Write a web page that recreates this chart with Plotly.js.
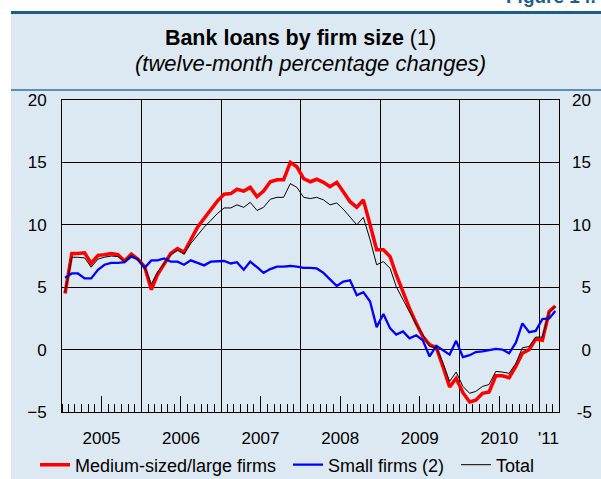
<!DOCTYPE html>
<html>
<head>
<meta charset="utf-8">
<script src="https://cdn.plot.ly/plotly-3.0.1.min.js"></script>
<style>html,body{margin:0;padding:0;background:#fff;}#chart{width:601px;height:479px;}</style>
</head>
<body>
<div id="chart"></div>
<script>
// Monthly data, Jan 2005 .. Mar 2011 (twelve-month % changes)
const startYear = 2005;
const mediumLarge = [4.5,7.7,7.7,7.75,6.9,7.55,7.6,7.7,7.6,7.1,7.65,7.25,
  6.65,4.8,6.0,6.9,7.7,8.1,7.8,8.8,9.8,10.5,11.2,11.9,
  12.45,12.5,12.85,12.7,13.0,12.25,12.7,13.45,13.6,13.6,15.0,14.65,
  13.7,13.45,13.65,13.4,13.05,13.4,12.65,11.85,11.4,12.0,10.0,8.0,
  8.0,7.45,6.0,4.55,3.3,2.1,1.05,0.4,0.15,-1.35,-3.0,-2.3,
  -3.45,-4.2,-4.05,-3.5,-3.4,-2.1,-2.1,-2.25,-1.35,-0.3,0.0,0.85,
  0.75,3.05,3.5];
const smallFirms = [5.75,6.1,6.1,5.7,5.7,6.4,6.8,6.95,6.95,7.0,7.45,7.25,
  6.55,7.15,7.15,7.3,7.05,7.05,6.8,7.15,6.95,6.75,7.05,7.1,
  7.1,6.9,7.0,6.4,7.05,6.6,6.15,6.45,6.65,6.65,6.7,6.65,
  6.55,6.55,6.5,6.15,5.65,5.1,5.45,5.55,4.35,4.6,3.85,1.8,
  2.85,1.7,1.2,1.45,0.9,1.15,0.75,-0.55,0.3,-0.05,-0.4,0.7,
  -0.6,-0.45,-0.2,-0.15,-0.05,0.05,0.0,-0.3,0.55,2.1,1.4,1.5,
  2.45,2.5,3.1];
const total = [4.6,7.4,7.4,7.35,6.6,7.25,7.4,7.5,7.45,7.05,7.6,7.2,
  6.65,5.25,6.2,6.9,7.6,7.95,7.65,8.5,9.2,9.8,10.35,10.9,
  11.35,11.35,11.6,11.4,11.8,11.15,11.4,12.05,12.2,12.2,13.3,13.0,
  12.2,12.1,12.2,12.0,11.6,11.75,11.25,10.65,10.0,10.6,8.8,6.8,
  7.05,6.5,5.05,4.0,2.95,2.0,1.2,0.25,0.15,-1.05,-2.55,-1.8,
  -2.95,-3.5,-3.35,-2.95,-2.8,-1.75,-1.8,-1.9,-1.1,0.15,0.25,1.0,
  1.0,3.0,3.45];
const yearLabels = ['2005','2006','2007','2008','2009','2010',"'11"];
const seriesNames = ['Medium-sized/large firms','Small firms (2)','Total'];
const yTicks = [-5,0,5,10,15,20];

const pad = n => String(n).padStart(2,'0');
const months = mediumLarge.map((_, i) => {
  const y = startYear + Math.floor(i/12), m = i % 12 + 1;
  return y + '-' + pad(m) + '-15';
});
const years = [2005,2006,2007,2008,2009,2010];
const yearMid = years.map(y => y + '-07-01').concat(['2011-02-12']);
const yearBounds = [2006,2007,2008,2009,2010,2011].map(y => y + '-01-01');
const xRange = ['2005-01-01','2011-04-01'];
const font = 'Liberation Sans, Arial, Helvetica, sans-serif';

// right-aligned right tick labels using figure spaces
const rightText = yTicks.map(v => {
  const s = String(v);
  if (v < 0) return '\u2008' + s;
  return s.length < 2 ? '\u2007' + s : s;
});

const traces = [
  {x: months, y: mediumLarge, name: seriesNames[0], type: 'scatter', mode: 'lines',
   line: {color: '#ff0000', width: 3.5}, legend: 'legend'},
  {x: months, y: smallFirms, name: seriesNames[1], type: 'scatter', mode: 'lines',
   line: {color: '#0000ff', width: 2.3}, legend: 'legend2'},
  {x: months, y: total, name: seriesNames[2], type: 'scatter', mode: 'lines',
   line: {color: '#000000', width: 1}, legend: 'legend3'},
  {x: [], y: [], xaxis: 'x2', yaxis: 'y', showlegend: false, hoverinfo: 'skip'},
  {x: [], y: [], xaxis: 'x3', yaxis: 'y', showlegend: false, hoverinfo: 'skip'},
  {x: [], y: [], xaxis: 'x', yaxis: 'y2', showlegend: false, hoverinfo: 'skip'}
];

const L = 62, R = 559, T = 100, B = 412, W = 601, H = 479;
const px = p => (p - L) / (R - L);
const py = p => (B - p) / (B - T);

const legendBase = {
  orientation: 'h', xanchor: 'left', y: py(465), yanchor: 'middle',
  font: {size: 18}, bgcolor: 'rgba(0,0,0,0)', itemwidth: 30
};

const layout = {
  width: W, height: H,
  margin: {l: L, r: W - R, t: T, b: H - B, pad: 0, autoexpand: false},
  paper_bgcolor: '#ffffff',
  plot_bgcolor: '#ffffff',
  font: {family: font, color: '#000', size: 17},
  showlegend: true,
  title: {
    text: '<b>Bank loans by firm size</b> (1)',
    font: {family: font, size: 21.5, color: '#000'},
    x: 0.5, xanchor: 'center', xref: 'container',
    y: 1 - 37 / H, yanchor: 'middle', yref: 'container'
  },
  xaxis: {
    type: 'date', range: xRange, tickmode: 'array', tickvals: yearMid, ticktext: yearLabels,
    ticks: '', showgrid: false, zeroline: false, showline: true, mirror: true,
    linecolor: '#000', linewidth: 1, tickfont: {size: 17}, ticklabelstandoff: 11
  },
  xaxis2: {
    type: 'date', range: xRange, overlaying: 'x', anchor: 'y', tickmode: 'array',
    tickvals: yearBounds, showticklabels: false, ticks: '', showgrid: true,
    gridcolor: '#000', gridwidth: 1, zeroline: false, showline: false,
    minor: {dtick: 'M1', tick0: '2005-01-01', ticks: 'inside', ticklen: 8,
            tickcolor: '#000', tickwidth: 1, showgrid: false}
  },
  xaxis3: {
    type: 'date', range: xRange, overlaying: 'x', anchor: 'y', tickmode: 'array',
    tickvals: yearMid.slice(0, 6), showticklabels: false, ticks: 'inside', ticklen: 16,
    tickcolor: '#000', tickwidth: 1, showgrid: false, zeroline: false, showline: false
  },
  yaxis: {
    range: [-5, 20], tickmode: 'array', tickvals: yTicks, ticks: '', showgrid: true,
    gridcolor: '#000', gridwidth: 1, zeroline: false, showline: true, mirror: true,
    linecolor: '#000', linewidth: 1, tickfont: {size: 17}, ticklabelstandoff: 11
  },
  yaxis2: {
    range: [-5, 20], overlaying: 'y', side: 'right', anchor: 'x', tickmode: 'array',
    tickvals: yTicks, ticktext: rightText, ticks: '', showgrid: false, zeroline: false,
    showline: false, tickfont: {size: 17}, ticklabelstandoff: 12
  },
  legend: Object.assign({}, legendBase, {x: px(35)}),
  legend2: Object.assign({}, legendBase, {x: px(288)}),
  legend3: Object.assign({}, legendBase, {x: px(456)}),
  shapes: [
    {type: 'rect', xref: 'paper', yref: 'paper', x0: px(11), x1: px(W + 5), y0: py(H + 5), y1: py(12),
     fillcolor: '#dde9f2', line: {width: 0}, layer: 'below'},
    {type: 'line', xref: 'paper', yref: 'paper', x0: px(11), x1: px(W + 5), y0: py(12.5), y1: py(12.5),
     line: {color: '#1c5e8b', width: 3}},
    {type: 'line', xref: 'paper', yref: 'paper', x0: px(11), x1: px(W + 5), y0: py(90), y1: py(90),
     line: {color: '#2f6f9c', width: 1.5}}
  ],
  annotations: [
    {text: '<i>(twelve-month percentage changes)</i>', xref: 'paper', yref: 'paper',
     x: px(310.5), y: py(64), xanchor: 'center', yanchor: 'middle', showarrow: false,
     font: {family: font, size: 22, color: '#000'}},
    {text: '<b>Figure 14.</b>', xref: 'paper', yref: 'paper', x: px(504), y: py(9),
     xanchor: 'left', yanchor: 'bottom', showarrow: false,
     font: {family: font, size: 19, color: '#1c5e8b'}}
  ]
};

Plotly.newPlot('chart', traces, layout, {displayModeBar: false, staticPlot: true});
</script>
</body>
</html>
